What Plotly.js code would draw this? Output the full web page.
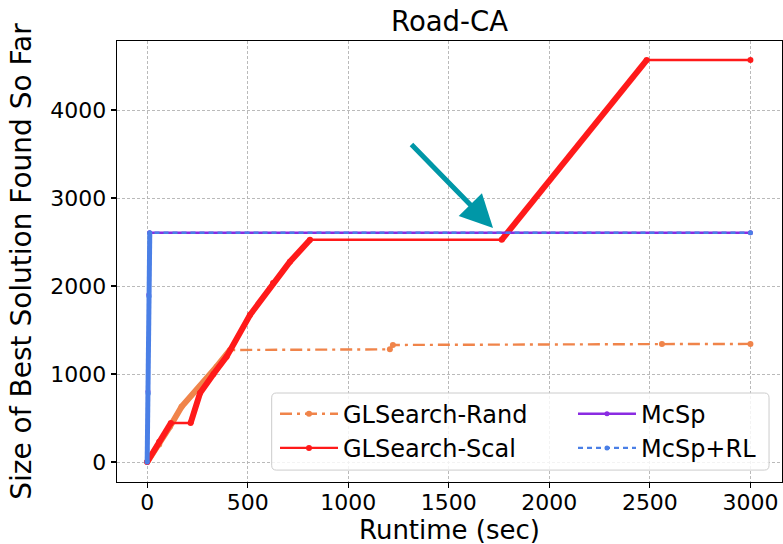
<!DOCTYPE html>
<html>
<head>
<meta charset="utf-8">
<script src="https://cdn.plot.ly/plotly-3.0.1.min.js"></script>
<style>html,body{margin:0;padding:0;background:#fff;}#chart{width:783px;height:544px;}</style>
</head>
<body>
<div id="chart"></div>
<script>
// ---- data ----
const randX = [0, 60, 113, 171, 263, 345, 412, 1207, 1222, 2560, 3000];
const randY = [0, 200, 401, 628, 856, 1083, 1273, 1280, 1330, 1340, 1342];

const scalX = [0, 60, 118, 216, 263, 330, 395, 511, 626, 710, 810, 1763, 2484, 3000];
const scalY = [0, 230, 443, 443, 784, 1000, 1197, 1670, 2034, 2276, 2525, 2525, 4568, 4568];

const mcspX = [0, 4, 8, 12, 3000];
const mcspY = [0, 800, 1900, 2605, 2605];

const rlX = [0, 5, 9, 13, 3000];
const rlY = [0, 780, 1880, 2605, 2605];

const xTicks = [0, 500, 1000, 1500, 2000, 2500, 3000];
const yTicks = [0, 1000, 2000, 3000, 4000];

// ---- styling ----
const FONT = "DejaVu Sans, sans-serif";
const cRand = "#f0844a", cScal = "#ff1a1a", cMcsp = "#8a2be2", cRL = "#4a7fe6";

function seg(xs, ys, ranges) {
  const ox = [], oy = [];
  ranges.forEach(([a, b], k) => {
    if (k > 0) { ox.push(null); oy.push(null); }
    for (let i = a; i <= b; i++) { ox.push(xs[i]); oy.push(ys[i]); }
  });
  return {x: ox, y: oy};
}

const thickRand = seg(randX, randY, [[0, 6]]);
const thickScal = seg(scalX, scalY, [[0, 2], [3, 10], [11, 12]]);
const thickRL = seg(rlX, rlY, [[0, 3]]);

const traces = [
  {x: randX, y: randY, name: "GLSearch-Rand", mode: "lines+markers", legend: "legend",
   line: {color: cRand, width: 2.4, dash: "12px,5px,3px,5px"}, marker: {color: cRand, size: 6}},
  {x: thickRand.x, y: thickRand.y, mode: "lines", showlegend: false, hoverinfo: "skip",
   line: {color: cRand, width: 6}, connectgaps: false},
  {x: scalX, y: scalY, name: "GLSearch-Scal", mode: "lines+markers", legend: "legend",
   line: {color: cScal, width: 2.4}, marker: {color: cScal, size: 6}},
  {x: thickScal.x, y: thickScal.y, mode: "lines", showlegend: false, hoverinfo: "skip",
   line: {color: cScal, width: 6}, connectgaps: false},
  {x: mcspX, y: mcspY, name: "McSp", mode: "lines+markers", legend: "legend2",
   line: {color: cMcsp, width: 2.4}, marker: {color: cMcsp, size: 5}},
  {x: rlX, y: rlY, name: "McSp+RL", mode: "lines+markers", legend: "legend2",
   line: {color: cRL, width: 2.4, dash: "5px,4px"}, marker: {color: cRL, size: 5}},
  {x: thickRL.x, y: thickRL.y, mode: "lines", showlegend: false, hoverinfo: "skip",
   line: {color: cRL, width: 5}, connectgaps: false}
];

const axisCommon = {
  showline: true, mirror: true, linecolor: "#000", linewidth: 1.3,
  ticks: "outside", ticklen: 5, tickwidth: 1.2, tickcolor: "#000",
  showgrid: true, gridcolor: "#b3b3b3", gridwidth: 0.9, griddash: "3px,2px",
  zeroline: false, tickfont: {family: FONT, size: 22, color: "#000"}
};

const legendCommon = {
  orientation: "v", yanchor: "top", y: 0.205, xanchor: "left",
  bgcolor: "rgba(0,0,0,0)", borderwidth: 0, itemwidth: 58,
  font: {family: FONT, size: 24, color: "#000"}, tracegroupgap: 0
};

// legend frame in paper coordinates (rounded rectangle)
const bx0 = 0.2326, bx1 = 0.9805, by0 = 0.027, by1 = 0.2018, rx = 0.007, ry = 0.011;
const framePath = `M${bx0+rx},${by0} L${bx1-rx},${by0} Q${bx1},${by0} ${bx1},${by0+ry} ` +
  `L${bx1},${by1-ry} Q${bx1},${by1} ${bx1-rx},${by1} L${bx0+rx},${by1} Q${bx0},${by1} ${bx0},${by1-ry} ` +
  `L${bx0},${by0+ry} Q${bx0},${by0} ${bx0+rx},${by0} Z`;

const layout = {
  width: 783, height: 544,
  margin: {l: 117, r: 1, t: 41, b: 62},
  paper_bgcolor: "#fff", plot_bgcolor: "#fff",
  font: {family: FONT, color: "#000"},
  title: {text: "Road-CA", font: {family: FONT, size: 27.5, color: "#000"},
          x: 0.5, xref: "paper", xanchor: "center", y: 0.96, yref: "container", yanchor: "middle"},
  xaxis: Object.assign({}, axisCommon, {
    range: [-150, 3157], tickvals: xTicks, ticktext: xTicks.map(String), ticklabelstandoff: -5
  }),
  yaxis: Object.assign({}, axisCommon, {
    range: [-227, 4784], tickvals: yTicks, ticktext: yTicks.map(String),
    title: {text: "Size of Best Solution Found So Far", font: {family: FONT, size: 28, color: "#000"}, standoff: 10}
  }),
  legend: Object.assign({}, legendCommon, {x: 0.2376}),
  legend2: Object.assign({}, legendCommon, {x: 0.6857}),
  shapes: [{
    type: "path", path: framePath, xref: "paper", yref: "paper", layer: "above",
    fillcolor: "rgba(255,255,255,0.82)", line: {color: "#cccccc", width: 1}
  }],
  annotations: [{
    x: 1720, y: 2660, ax: 1307, ay: 3625, axref: "x", ayref: "y", xref: "x", yref: "y",
    text: "", showarrow: true, arrowhead: 2, arrowsize: 1.3, arrowwidth: 5,
    arrowcolor: "#0097a7", standoff: 0
  }, {
    // x-axis title
    text: "Runtime (sec)", showarrow: false, xref: "paper", yref: "paper",
    x: 0.5, xanchor: "center", y: -0.1088, yanchor: "middle", borderpad: 0,
    font: {family: FONT, size: 26, color: "#000"}
  }],
  showlegend: true
};

Plotly.newPlot("chart", traces, layout, {displayModeBar: false, staticPlot: true});
</script>
</body>
</html>
